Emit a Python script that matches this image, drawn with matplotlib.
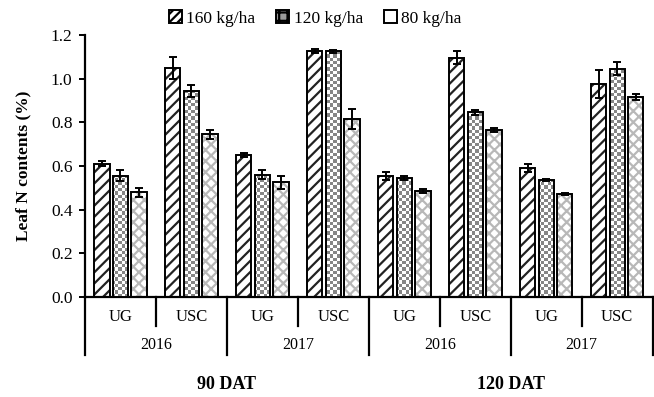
import numpy as np
import matplotlib
matplotlib.use('Agg')
import matplotlib.pyplot as plt
import matplotlib.transforms as mtransforms
from matplotlib.patches import Patch

plt.rcParams['font.family'] = ['Liberation Serif', 'DejaVu Serif']
plt.rcParams['hatch.linewidth'] = 1.6

# groups along the x axis
stages = ['90 DAT', '120 DAT']
group_labels = ['UG', 'USC', 'UG', 'USC', 'UG', 'USC', 'UG', 'USC']
year_labels = ['2016', '2017', '2016', '2017']

series_names = ['160 kg/ha', '120 kg/ha', '80 kg/ha']
n160 = [0.61, 1.05, 0.65, 1.125, 0.555, 1.095, 0.59, 0.975]
n120 = [0.555, 0.945, 0.56, 1.125, 0.545, 0.845, 0.535, 1.045]
n80 = [0.48, 0.745, 0.525, 0.815, 0.485, 0.765, 0.47, 0.915]
e160 = [0.012, 0.05, 0.01, 0.01, 0.018, 0.03, 0.018, 0.065]
e120 = [0.025, 0.028, 0.02, 0.008, 0.01, 0.01, 0.006, 0.03]
e80 = [0.02, 0.02, 0.03, 0.045, 0.01, 0.01, 0.004, 0.015]


def main():
    fig = plt.figure(figsize=(6.54, 3.97), dpi=100)
    ax = fig.add_axes([0.130, 0.252, 0.868, 0.660])

    x = np.arange(len(group_labels))
    width = 0.215
    step = 0.262
    ylim = (0, 1.2)
    xlim = (-0.5, len(group_labels) - 0.5)

    values = [n160, n120, n80]
    errors = [e160, e120, e80]

    # checkerboard for 120 kg/ha bars
    rows, cols = 80, 172
    checker = (np.add.outer(np.arange(rows), np.arange(cols)) % 2).astype(float)

    for k, (vals, errs) in enumerate(zip(values, errors)):
        pos = x + (k - 1) * step
        if k == 0:
            ax.bar(pos, vals, width, color='white', edgecolor='#222222',
                   hatch='///', linewidth=0, zorder=2)
        elif k == 2:
            ax.bar(pos, vals, width, color='white', edgecolor='#b8b8b8',
                   hatch='xxx', linewidth=0, zorder=2)
        outline = ax.bar(pos, vals, width, fill=False, edgecolor='black',
                         linewidth=1.4, zorder=4)
        if k == 1:
            for rect in outline:
                clip = plt.Rectangle(rect.get_xy(), rect.get_width(),
                                     rect.get_height(), transform=ax.transData)
                im = ax.imshow(checker, extent=[xlim[0], xlim[1], ylim[0], ylim[1]],
                               aspect='auto', cmap='gray', vmin=-1.1, vmax=1.0,
                               interpolation='nearest', origin='lower', zorder=3)
                im.set_clip_path(clip)
        ax.errorbar(pos, vals, yerr=errs, fmt='none', ecolor='black',
                    elinewidth=1.4, capsize=2.6, capthick=1.4, zorder=5)

    ax.set_xlim(*xlim)
    ax.set_ylim(*ylim)
    ticks = np.arange(0, 1.21, 0.2)
    ax.set_yticks(ticks)
    ax.set_yticklabels([f'{v:.1f}' for v in ticks], fontsize=12.5)
    ax.set_xticks([])
    ax.tick_params(axis='y', direction='out', length=4, width=1.4, pad=5)
    for s in ['top', 'right']:
        ax.spines[s].set_visible(False)
    ax.spines['left'].set_linewidth(1.6)
    ax.spines['bottom'].set_linewidth(1.6)

    ax.set_ylabel('Leaf N contents (%)', fontsize=12.5, fontweight='bold', labelpad=14)

    trans = mtransforms.blended_transform_factory(ax.transData, ax.transAxes)
    # separators below the axis
    for b in np.arange(len(group_labels) + 1) - 0.5:
        long_line = int(round(b + 0.5)) % 2 == 0
        y_end = -0.222 if long_line else -0.112
        ax.plot([b, b], [0, y_end], transform=trans, color='black',
                linewidth=1.6, clip_on=False)

    for xi, lab in zip(x, group_labels):
        ax.text(xi, -0.076, lab, transform=trans, ha='center', va='center', fontsize=12)
    for i, lab in enumerate(year_labels):
        ax.text(2 * i + 0.5, -0.183, lab, transform=trans, ha='center',
                va='center', fontsize=11.5)
    for i, lab in enumerate(stages):
        ax.text(4 * i + 1.5, -0.335, lab, transform=trans, ha='center',
                va='center', fontsize=13, fontweight='bold')

    handles = [
        Patch(facecolor='white', edgecolor='black', hatch='////', linewidth=1.4),
        Patch(facecolor='#9a9a9a', edgecolor='black', hatch='++', linewidth=1.4),
        Patch(facecolor='white', edgecolor='black', linewidth=1.4),
    ]
    fig.legend(handles, series_names, loc='center', bbox_to_anchor=(0.482, 0.953),
               ncol=3, frameon=False, fontsize=12.5, handlelength=0.75,
               handleheight=0.75, handletextpad=0.25, columnspacing=1.2)

    fig.savefig('out.png', dpi=100)


if __name__ == '__main__':
    main()
